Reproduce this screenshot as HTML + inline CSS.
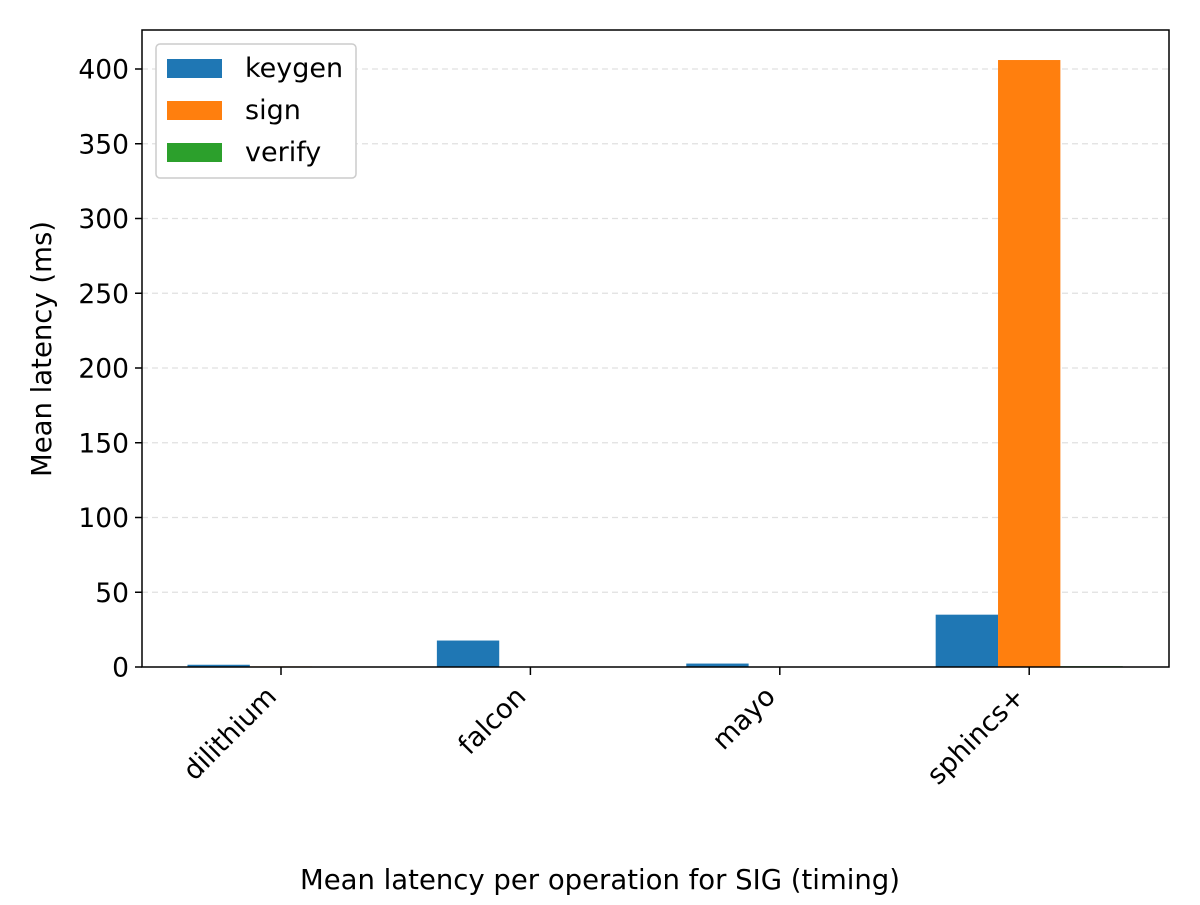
<!DOCTYPE html>
<html><head><meta charset="utf-8"><style>
body{margin:0;background:#fff;font-family:"Liberation Sans","DejaVu Sans",sans-serif}
svg text{font-family:"DejaVu Sans","Liberation Sans",sans-serif;fill:#000}
</style></head><body>
<svg id="chart" width="1200" height="900" xmlns="http://www.w3.org/2000/svg">
<g id="grid"></g>
<g id="bars"></g>
<rect x="142" y="30" width="1027" height="637" fill="none" stroke="#000" stroke-width="1.5"/>
<g id="yticks"></g>
<g id="xticks"></g>
<text transform="translate(51,349) rotate(-90)" text-anchor="middle" font-size="27.5">Mean latency (ms)</text>
<text x="600" y="889" text-anchor="middle" font-size="27.5">Mean latency per operation for SIG (timing)</text>
<g>
<rect x="156" y="44" width="200" height="134" fill="#fff" stroke="#ccc" stroke-width="1.5" rx="4"/>
<rect x="167" y="59" width="55" height="19" fill="#1f77b4"/>
<text x="245" y="77" font-size="27">keygen</text>
<rect x="167" y="101" width="55" height="19" fill="#ff7f0e"/>
<text x="245" y="119" font-size="27">sign</text>
<rect x="167" y="143" width="55" height="19" fill="#2ca02c"/>
<text x="245" y="161" font-size="27">verify</text>
</g>
</svg>
<script>
const categories=["dilithium","falcon","mayo","sphincs+"];
const keygen=[1.5,17.7,2.3,35];
const sign=[0.4,0.3,0.3,406];
const verify=[0.1,0.1,0.2,0.5];
const yTicks=[0,50,100,150,200,250,300,350,400];
const NS="http://www.w3.org/2000/svg";
const x0=142,x1=1169,y0=667;
const yPerUnit=(667-69)/400;
const y=v=>y0-v*yPerUnit;
const step=249.4;
const xc=i=>281+step*i;
const bw=step*0.25;
function mk(t,a,p){const e=document.createElementNS(NS,t);for(const k in a)e.setAttribute(k,a[k]);p.appendChild(e);return e;}
const grid=document.getElementById('grid'),bars=document.getElementById('bars'),yt=document.getElementById('yticks'),xt=document.getElementById('xticks');
yTicks.forEach(v=>{
 if(v>0){const g=mk('line',{x1:x0,x2:x1,y1:y(v),y2:y(v),stroke:'#e0e0e0','stroke-dasharray':'6,4','stroke-width':1.2},grid);
 
 }
 const t=mk('line',{x1:x0-7,x2:x0,y1:y(v),y2:y(v),stroke:'#000','stroke-width':1.5},yt);
 
 
 const l=mk('text',{x:x0-13,y:y(v)+9.5,'text-anchor':'end','font-size':26.5},yt);l.textContent=v;
 
 
});
const series=[[keygen,'#1f77b4','keygen'],[sign,'#ff7f0e','sign'],[verify,'#2ca02c','verify']];
categories.forEach((c,i)=>{
 series.forEach((s,j)=>{
  const v=s[0][i];const bx=xc(i)+(j-1)*bw-bw/2;
  const r=mk('rect',{x:bx,y:y(v),width:bw,height:y0-y(v),fill:s[1]},bars);
  
  
 });
 const t=mk('line',{x1:xc(i),x2:xc(i),y1:y0,y2:y0+8,stroke:'#000','stroke-width':1.5},xt);
 
 
 const l=mk('text',{x:0,y:0,'text-anchor':'end','font-size':27,transform:`translate(${xc(i)-3},${y0+31}) rotate(-45)`},xt);
 l.textContent=c;
 
 
});
</script>
</body></html>
